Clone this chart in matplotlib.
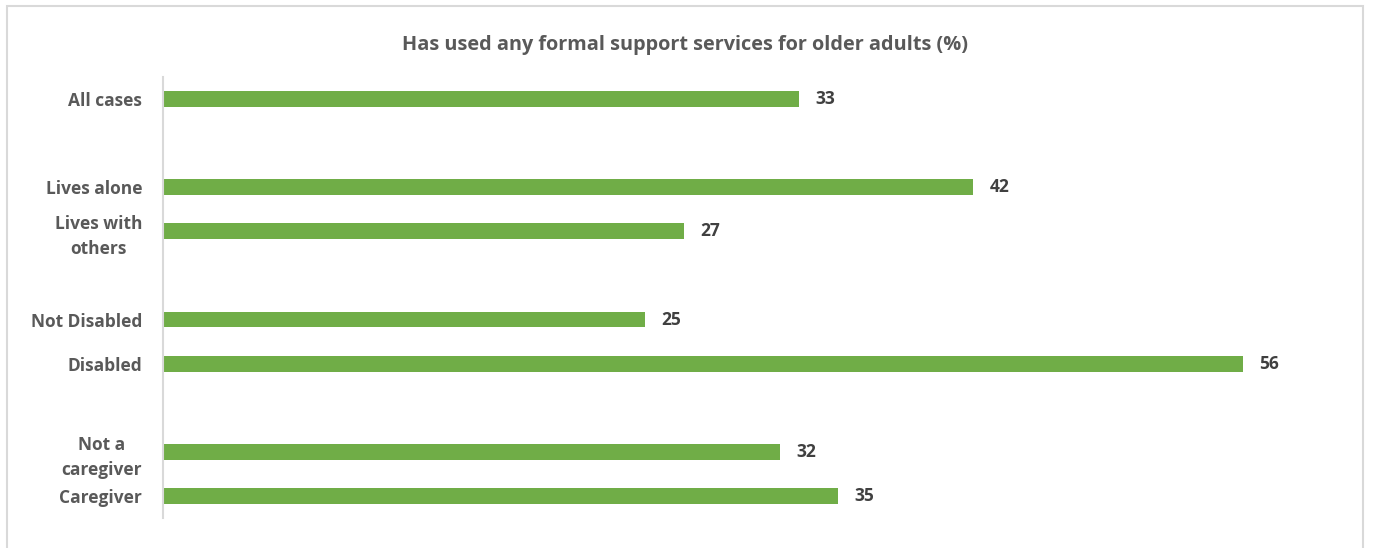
import numpy as np
import matplotlib.pyplot as plt
from matplotlib.patches import Rectangle

# categories (top to bottom), blank strings are the gaps between groups
labels = ["All cases", "", "Lives alone", "Lives with\nothers", "",
          "Not Disabled", "Disabled", "", "Not a\ncaregiver", "Caregiver"]
values = [33, None, 42, 27, None, 25, 56, None, 32, 35]

title = "Has used any formal support services for older adults (%)"

plt.rcParams['font.family'] = ['Open Sans', 'DejaVu Sans']

fig = plt.figure(figsize=(13.73, 5.48), dpi=100)
ax = fig.add_axes([163 / 1373, 30 / 548, (1320 - 163) / 1373, (518 - 77) / 548])

ypos = np.arange(len(labels))
bar_y = [y for y, v in zip(ypos, values) if v is not None]
bar_v = [v for v in values if v is not None]

ax.barh(bar_y, bar_v, height=0.36, color='#70ad47')

for y, v in zip(bar_y, bar_v):
    ax.text(v + 0.85, y, str(v), va='center', ha='left', fontsize=12.5,
            fontweight='bold', color='#404040')

ax.set_ylim(len(labels) - 0.5, -0.5)
ax.set_xlim(0, 60)
ax.set_yticks(ypos)
ax.set_yticklabels(labels, fontsize=12.5, fontweight='bold', color='#595959',
                   multialignment='center', linespacing=1.5)
ax.tick_params(axis='y', length=0, pad=15)
ax.set_xticks([])

for s in ['top', 'right', 'bottom']:
    ax.spines[s].set_visible(False)
ax.spines['left'].set_color('#d9d9d9')
ax.spines['left'].set_linewidth(1.5)

fig.text(685 / 1373, 1 - 45 / 548, title, ha='center', va='center',
         fontsize=14.3, fontweight='bold', color='#595959')

# chart border
fig.patches.append(Rectangle((7 / 1373, -0.05), (1363 - 7) / 1373, 1.05 - 6 / 548,
                             transform=fig.transFigure, fill=False,
                             edgecolor='#d9d9d9', linewidth=1.5))

fig.savefig('out.png', dpi=100)
